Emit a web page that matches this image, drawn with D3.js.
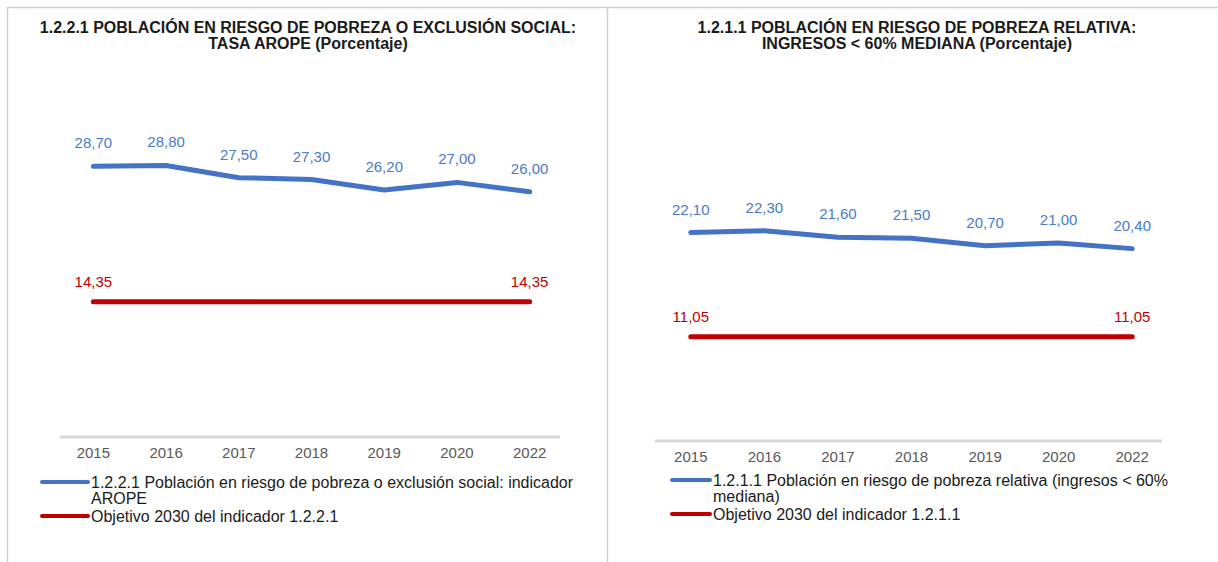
<!DOCTYPE html>
<html>
<head>
<meta charset="utf-8">
<script src="https://cdn.jsdelivr.net/npm/d3@7"></script>
<style>
  body { margin: 0; background: #fff; }
  text { font-family: "Liberation Sans", Arial, sans-serif; }
</style>
</head>
<body>
<svg id="chart" width="1218" height="562"></svg>
<script>
// data
const years = ['2015', '2016', '2017', '2018', '2019', '2020', '2022']
const aropeValues = [28.7, 28.8, 27.5, 27.3, 26.2, 27.0, 26.0]
const aropeTarget = [14.35, 14.35, 14.35, 14.35, 14.35, 14.35, 14.35]
const relativaValues = [22.1, 22.3, 21.6, 21.5, 20.7, 21.0, 20.4]
const relativaTarget = [11.05, 11.05, 11.05, 11.05, 11.05, 11.05, 11.05]

const locale = d3.formatLocale({ decimal: ',', thousands: '.', grouping: [3], currency: ['', '€'] })
const fmt = locale.format('.2f')

const blue = '#4472C4'
const red = '#C00000'

const svg = d3.select('#chart')

// panel frame lines
svg.append('line').attr('x1', 7).attr('x2', 1218).attr('y1', 7.5).attr('y2', 7.5)
  .attr('stroke', '#d0d0d0').attr('stroke-width', 1.5)
svg.append('line').attr('x1', 7.5).attr('x2', 7.5).attr('y1', 7).attr('y2', 562)
  .attr('stroke', '#d0d0d0').attr('stroke-width', 1.5)
svg.append('line').attr('x1', 607.5).attr('x2', 607.5).attr('y1', 7).attr('y2', 562)
  .attr('stroke', '#d0d0d0').attr('stroke-width', 1.5)

function drawPanel(p) {
  const g = svg.append('g')

  // title
  const title = g.append('text')
    .attr('x', p.titleX)
    .attr('text-anchor', 'middle')
    .attr('font-size', 16)
    .attr('font-weight', 'bold')
    .attr('fill', '#1a1a1a')
  p.title.forEach((t, i) => {
    title.append('tspan').attr('x', p.titleX).attr('y', 33 + i * 16).text(t)
  })

  // scales
  const xscale = d3.scaleBand()
    .domain(years)
    .range([p.left, p.right])
  const yscale = d3.scaleLinear()
    .domain([0, 35])
    .range([p.axisY, p.axisY - 35 * 9.43])
  const cx = d => xscale(d) + xscale.bandwidth() / 2

  // axis line
  g.append('line')
    .attr('x1', p.axisX1).attr('x2', p.axisX2)
    .attr('y1', p.axisY).attr('y2', p.axisY)
    .attr('stroke', '#d9d9d9').attr('stroke-width', 3)

  const bottomAxis = d3.axisBottom(xscale).tickSize(0).tickPadding(10)
  const ax = g.append('g')
    .attr('transform', `translate(0, ${p.axisY})`)
    .call(bottomAxis)
  ax.select('.domain').remove()
  ax.selectAll('text')
    .attr('font-size', 15)
    .attr('fill', '#595959')
    .attr('font-family', '"Liberation Sans", Arial, sans-serif')

  const line = d3.line()
    .x((d, i) => cx(years[i]))
    .y(d => yscale(d))

  // series
  const series = [
    { values: p.values, color: blue, labelColor: '#4a7bc8', labelAll: true, dy: -18 },
    { values: p.target, color: red, labelColor: '#c00000', labelAll: false, dy: -15 }
  ]
  series.forEach(s => {
    g.append('path')
      .datum(s.values)
      .attr('d', line)
      .attr('fill', 'none')
      .attr('stroke', s.color)
      .attr('stroke-width', 5)
      .attr('stroke-linecap', 'round')
      .attr('stroke-linejoin', 'round')
    g.selectAll(null)
      .data(s.values.map((v, i) => ({ v, i })).filter(d => s.labelAll || d.i === 0 || d.i === years.length - 1))
      .enter()
      .append('text')
      .attr('x', d => cx(years[d.i]))
      .attr('y', d => yscale(d.v) + s.dy)
      .attr('text-anchor', 'middle')
      .attr('font-size', 15)
      .attr('fill', s.labelColor)
      .text(d => fmt(d.v))
  })

  // legend
  const legend = [
    { color: blue, lines: p.legend1, y: p.legendY },
    { color: red, lines: p.legend2, y: p.legendY + 34 }
  ]
  legend.forEach(l => {
    g.append('line')
      .attr('x1', p.legendX).attr('x2', p.legendX + p.swatchW)
      .attr('y1', l.y).attr('y2', l.y)
      .attr('stroke', l.color).attr('stroke-width', 4)
      .attr('stroke-linecap', 'round')
    const t = g.append('text')
      .attr('font-size', 16)
      .attr('fill', '#1a1a1a')
    l.lines.forEach((txt, i) => {
      t.append('tspan')
        .attr('x', p.legendX + p.swatchW + 3)
        .attr('y', l.y + 6 + i * 16)
        .text(txt)
    })
  })
}

drawPanel({
  title: ['1.2.2.1 POBLACIÓN EN RIESGO DE POBREZA O EXCLUSIÓN SOCIAL:', 'TASA AROPE (Porcentaje)'],
  titleX: 308,
  left: 57, right: 566,
  axisX1: 60, axisX2: 560, axisY: 437,
  values: aropeValues, target: aropeTarget,
  legendX: 42, swatchW: 46, legendY: 482,
  legend1: ['1.2.2.1 Población en riesgo de pobreza o exclusión social: indicador', 'AROPE'],
  legend2: ['Objetivo 2030 del indicador 1.2.2.1']
})

drawPanel({
  title: ['1.2.1.1 POBLACIÓN EN RIESGO DE POBREZA RELATIVA:', 'INGRESOS < 60% MEDIANA (Porcentaje)'],
  titleX: 917,
  left: 654, right: 1169,
  axisX1: 655, axisX2: 1162, axisY: 441,
  values: relativaValues, target: relativaTarget,
  legendX: 672, swatchW: 38, legendY: 480,
  legend1: ['1.2.1.1 Población en riesgo de pobreza relativa (ingresos < 60%', 'mediana)'],
  legend2: ['Objetivo 2030 del indicador 1.2.1.1']
})
</script>
</body>
</html>
